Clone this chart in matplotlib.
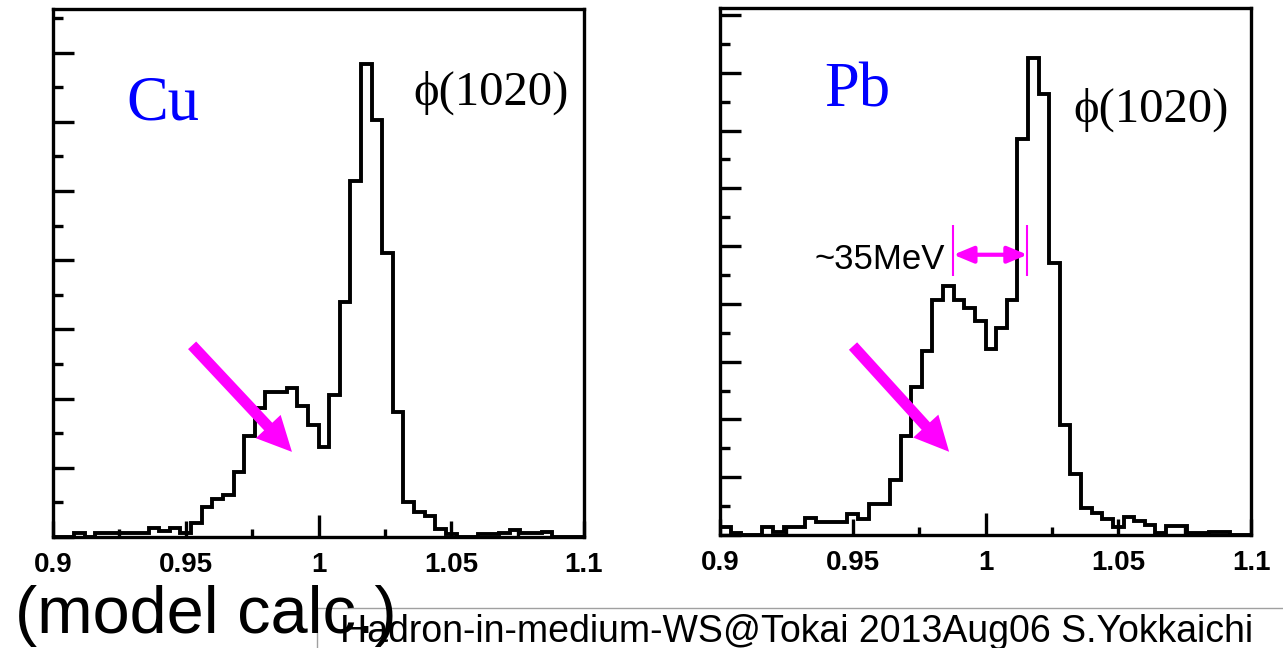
import numpy as np
import matplotlib
matplotlib.use("Agg")
import matplotlib.pyplot as plt
from matplotlib.ticker import MultipleLocator, FixedLocator
from matplotlib.lines import Line2D

# ---------------- data ----------------
mass_lo = 0.9
mass_hi = 1.1
n_bins = 50

cu_counts = [0, 0, 6, 0, 6, 6, 6, 6, 6, 13,
             8, 13, 6, 20, 44, 55, 61, 94, 146, 187,
             210, 210, 215, 189, 162, 130, 205, 339, 515, 684,
             603, 410, 181, 50, 36, 31, 11, 5, 0, 0,
             4, 4, 6, 10, 6, 6, 7, 0, 0, 0]

pb_counts = [14, 3, 0, 0, 14, 6, 14, 14, 30, 22,
             22, 22, 37, 27, 53, 53, 95, 171, 256, 319,
             406, 431, 406, 392, 370, 322, 358, 406, 686, 826,
             763, 470, 191, 106, 46, 38, 28, 14, 31, 25,
             18, 3, 15, 15, 3, 3, 6, 6, 0, 0]

x_ticks = [0.9, 0.95, 1.0, 1.05, 1.1]
x_ticklabels = ["0.9", "0.95", "1", "1.05", "1.1"]

cu_ymax = 763
pb_ymax = 912

shift_lo, shift_hi = 0.9879, 1.0158   # marked shift in Pb panel
shift_label = "~35MeV"

MAGENTA = "#ff00ff"
BLUE = "#0000ff"

W, H = 1283, 648
fig = plt.figure(figsize=(W / 100, H / 100), dpi=100)

edges = np.linspace(mass_lo, mass_hi, n_bins + 1)


def make_panel(rect, counts, ymax):
    ax = fig.add_axes(rect)
    ax.stairs(counts, edges, color="black", linewidth=2.8, baseline=0)
    ax.set_xlim(mass_lo, mass_hi)
    ax.set_ylim(0, ymax)
    for s in ax.spines.values():
        s.set_linewidth(2.4)
    ax.xaxis.set_major_locator(FixedLocator(x_ticks))
    ax.xaxis.set_minor_locator(MultipleLocator(0.025))
    ax.yaxis.set_major_locator(MultipleLocator(100))
    ax.yaxis.set_minor_locator(MultipleLocator(50))
    ax.tick_params(axis="both", which="both", direction="in", width=2.4,
                   top=False, right=False, colors="black")
    ax.tick_params(axis="y", which="major", length=15, labelleft=False)
    ax.tick_params(axis="y", which="minor", length=7.2)
    ax.tick_params(axis="x", which="major", length=11.5, pad=11)
    ax.tick_params(axis="x", which="minor", length=5.5)
    ax.set_xticklabels(x_ticklabels, fontsize=20, fontweight="bold",
                       family="Liberation Sans")
    ax.xaxis.get_major_ticks()[2].tick1line.set_markersize(16)
    return ax


axL = make_panel([53 / W, 1 - 537 / H, 531 / W, 528 / H], cu_counts, cu_ymax)
axR = make_panel([720 / W, 1 - 535 / H, 531 / W, 527 / H], pb_counts, pb_ymax)

serif = ["Liberation Serif", "DejaVu Serif"]

axL.text(0.139, 0.790, "Cu", transform=axL.transAxes, color=BLUE,
         fontsize=45, family=serif, va="baseline")
axR.text(0.196, 0.814, "Pb", transform=axR.transAxes, color=BLUE,
         fontsize=45, family=serif, va="baseline")
axL.text(0.678, 0.818, "\u03d5(1020)", transform=axL.transAxes,
         fontsize=35, family=serif, va="baseline")
axR.text(0.665, 0.784, "\u03d5(1020)", transform=axR.transAxes,
         fontsize=35, family=serif, va="baseline")

arrow_kw = dict(arrowstyle="simple,head_length=2.5,head_width=2.45,tail_width=0.8",
                color=MAGENTA, lw=0, shrinkA=0, shrinkB=0, mutation_scale=10)
axL.annotate("", xy=(0.990, 123), xytext=(0.9524, 277), arrowprops=arrow_kw)
axR.annotate("", xy=(0.9863, 144), xytext=(0.9501, 327), arrowprops=arrow_kw)

# shift marker in Pb panel
axR.vlines([shift_lo, shift_hi], 448, 536, color=MAGENTA, lw=1.5)
axR.annotate("", xy=(shift_hi, 485), xytext=(shift_lo, 485),
             arrowprops=dict(arrowstyle="<|-|>,head_length=1.2,head_width=0.5",
                             color=MAGENTA, lw=3, shrinkA=0, shrinkB=0,
                             mutation_scale=10))
axR.text(0.9847, 460, shift_label, ha="right", va="baseline", fontsize=25,
         family="Liberation Sans", color="black")

# footer
fig.add_artist(Line2D([317 / W, 1], [1 - 608 / H] * 2, color="#a0a0a0", lw=1,
                      transform=fig.transFigure))
fig.add_artist(Line2D([317 / W] * 2, [0, 1 - 608 / H], color="#a0a0a0", lw=1,
                      transform=fig.transFigure))
fig.text(15 / W, 1 - 633 / H, "(model calc.)", fontsize=48,
         family="Liberation Sans", va="baseline")
fig.text(340 / W, 1 - 642 / H, "Hadron-in-medium-WS@Tokai 2013Aug06 S.Yokkaichi",
         fontsize=27, family="Liberation Sans", va="baseline")

fig.savefig("out.png", dpi=100)
